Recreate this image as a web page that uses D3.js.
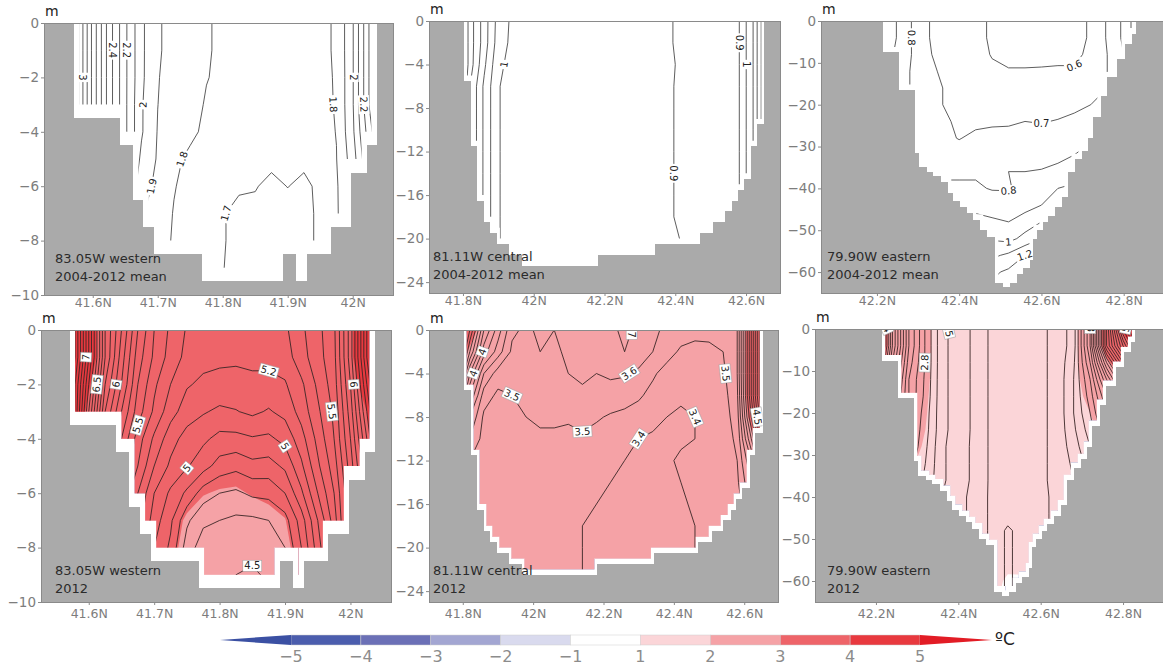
<!DOCTYPE html>
<html>
<head>
<meta charset="utf-8">
<script src="https://cdn.jsdelivr.net/npm/d3@7"></script>
<style>
  body { margin: 0; background: #fff; }
  text { font-family: "DejaVu Sans", sans-serif; }
</style>
</head>
<body>
<svg id="figure" width="1163" height="665"></svg>
<script>

// ---------- data ----------

var sectionNames = ["83.05W western", "81.11W central", "79.90W eastern"];
var periods = ["2004-2012 mean", "2012"];

// colour bar boundaries (deg C) and band colours, lowest band first
var bounds = [-5, -4, -3, -2, -1, 1, 2, 3, 4, 5];
var bandColors = ["#3b50a3", "#4b5dad", "#6b70b6", "#a3a6d2", "#d9daee", "#ffffff",
                  "#fbd5d8", "#f5a2a6", "#ee6469", "#e8393f", "#e21c25"];

// tick labels
var ticksLatW = [41.6, 41.7, 41.8, 41.9, 42.0];
var ticksLatC = [41.8, 42.0, 42.2, 42.4, 42.6];
var ticksLatE = [42.2, 42.4, 42.6, 42.8];
var ticksDepthW = [0, -2, -4, -6, -8, -10];
var ticksDepthC = [0, -4, -8, -12, -16, -20, -24];
var ticksDepthE = [0, -10, -20, -30, -40, -50, -60];

// lake bottom: column edges (deg N) and floor depth of each column (m)
var edgesW = [41.571, 41.642, 41.662, 41.678, 41.695, 41.768, 41.892, 41.912, 41.929, 41.966, 41.998, 42.022, 42.037];
var floorsW = [-3.5, -4.5, -6.5, -7.5, -8.5, -9.5, -8.5, -9.5, -8.5, -7.5, -5.5, -4.5];
var edgesC = [41.803, 41.823, 41.840, 41.859, 41.876, 41.896, 41.930, 41.967, 42.182, 42.343, 42.470,
              42.507, 42.541, 42.561, 42.578, 42.595, 42.615, 42.632, 42.652];
var floorsC = [-5.5, -11.5, -16.5, -18.5, -19.5, -20.5, -21.5, -22.5, -21.5, -20.5, -19.5, -18.5,
               -17.5, -16.5, -15.5, -14.5, -11.5, -9.5];
var edgesE = [42.2146, 42.2535, 42.2923, 42.302, 42.3215, 42.336, 42.3555, 42.3725, 42.3847, 42.4017,
              42.4187, 42.4333, 42.4503, 42.4673, 42.4868, 42.5062, 42.5232, 42.5402, 42.5548, 42.5718,
              42.5791, 42.5888, 42.6034, 42.6155, 42.6326, 42.6496, 42.6641, 42.6812, 42.6982, 42.7128,
              42.7249, 42.7443, 42.7589, 42.7832, 42.8027, 42.8197, 42.8294];
var floorsE = [-7.5, -16.5, -31.5, -35, -36, -37, -38.5, -41, -43, -44.5, -46, -47.5, -50, -51.5,
               -62.5, -63.5, -62.5, -60.5, -59, -57, -52, -50, -48, -46.5, -44.5, -42, -36, -33,
               -31, -28, -23, -18, -13.5, -9, -5.5, -3];

// temperature grids: one row per depth, one column per latitude
var latW = d3.range(21).map(function(i) { return 41.55 + i * 0.025; });
var depthW = d3.range(11).map(function(i) { return -i; });
var latC = d3.range(23).map(function(i) { return 41.78 + i * 0.04; });
var depthC = d3.range(13).map(function(i) { return -2 * i; });
var latE = d3.range(18).map(function(i) { return 42.2 + i * 0.04; });
var depthE = d3.range(17).map(function(i) { return -4 * i; });

var meanW = [
  [3.4, 3.15, 2.77, 2.45, 2.22, 2.02, 1.91, 1.87, 1.84, 1.805, 1.79, 1.78, 1.78, 1.78, 1.78, 1.78, 1.78, 1.81, 1.99, 2.3, 2.5],
  [3.4, 3.15, 2.77, 2.45, 2.22, 2.02, 1.91, 1.87, 1.84, 1.805, 1.79, 1.78, 1.78, 1.78, 1.78, 1.78, 1.78, 1.81, 1.99, 2.3, 2.5],
  [3.4, 3.15, 2.77, 2.45, 2.22, 2.02, 1.905, 1.86, 1.83, 1.802, 1.79, 1.78, 1.78, 1.78, 1.78, 1.78, 1.785, 1.805, 1.99, 2.3, 2.5],
  [3.4, 3.15, 2.77, 2.45, 2.22, 2.01, 1.901, 1.85, 1.82, 1.795, 1.78, 1.77, 1.77, 1.77, 1.77, 1.77, 1.78, 1.805, 1.99, 2.3, 2.5],
  [3.4, 3.15, 2.77, 2.45, 2.22, 2.01, 1.895, 1.84, 1.81, 1.79, 1.77, 1.76, 1.76, 1.76, 1.76, 1.76, 1.775, 1.802, 1.98, 2.25, 2.5],
  [3.2, 3.0, 2.7, 2.4, 2.15, 1.98, 1.89, 1.81, 1.79, 1.77, 1.75, 1.74, 1.74, 1.72, 1.71, 1.72, 1.76, 1.798, 1.95, 2.2, 2.4],
  [3.0, 2.8, 2.6, 2.3, 2.1, 1.95, 1.87, 1.805, 1.77, 1.74, 1.72, 1.71, 1.705, 1.68, 1.702, 1.68, 1.72, 1.79, 1.9, 2.1, 2.3],
  [3.0, 2.8, 2.5, 2.2, 2.01, 1.91, 1.85, 1.795, 1.76, 1.72, 1.705, 1.68, 1.68, 1.67, 1.67, 1.67, 1.72, 1.79, 1.88, 2.01, 2.2],
  [3.0, 2.8, 2.5, 2.2, 2.01, 1.91, 1.84, 1.79, 1.75, 1.72, 1.705, 1.68, 1.68, 1.67, 1.67, 1.67, 1.72, 1.79, 1.88, 2.01, 2.2],
  [3.0, 2.8, 2.5, 2.2, 2.01, 1.91, 1.84, 1.79, 1.75, 1.72, 1.701, 1.69, 1.68, 1.68, 1.68, 1.68, 1.72, 1.79, 1.88, 2.01, 2.2],
  [3.0, 2.8, 2.5, 2.2, 2.01, 1.91, 1.84, 1.79, 1.75, 1.72, 1.701, 1.69, 1.68, 1.68, 1.68, 1.68, 1.72, 1.79, 1.88, 2.01, 2.2]
];
var y2012W = [
  [7.6, 7.5, 6.9, 6.3, 6.0, 5.7, 5.5, 5.38, 5.29, 5.26, 5.25, 5.25, 5.25, 5.25, 5.28, 5.38, 5.47, 5.58, 5.95, 6.5, 7.0],
  [7.6, 7.5, 6.9, 6.3, 5.95, 5.65, 5.48, 5.36, 5.27, 5.23, 5.22, 5.22, 5.22, 5.23, 5.25, 5.36, 5.46, 5.57, 5.95, 6.5, 7.0],
  [7.6, 7.4, 6.8, 6.2, 5.9, 5.6, 5.42, 5.3, 5.21, 5.18, 5.17, 5.16, 5.18, 5.17, 5.19, 5.28, 5.42, 5.55, 5.9, 6.4, 6.9],
  [7.6, 7.4, 6.7, 6.1, 5.8, 5.55, 5.38, 5.24, 5.15, 5.11, 5.08, 5.095, 5.12, 5.09, 5.13, 5.24, 5.38, 5.52, 5.85, 6.3, 6.8],
  [7.4, 7.2, 6.6, 6.0, 5.7, 5.45, 5.28, 5.14, 5.06, 5.02, 4.97, 4.97, 4.99, 4.98, 5.03, 5.16, 5.33, 5.5, 5.8, 6.2, 6.7],
  [7.2, 7.0, 6.5, 5.95, 5.6, 5.4, 5.2, 5.08, 5.01, 4.94, 4.86, 4.83, 4.87, 4.86, 4.92, 5.08, 5.28, 5.45, 5.75, 6.1, 6.6],
  [7.0, 6.9, 6.4, 5.9, 5.5, 5.3, 5.1, 4.98, 4.88, 4.75, 4.70, 4.68, 4.72, 4.73, 4.80, 4.98, 5.2, 5.4, 5.7, 6.0, 6.5],
  [7.0, 6.9, 6.4, 5.9, 5.5, 5.25, 5.05, 4.92, 4.72, 4.62, 4.60, 4.58, 4.58, 4.60, 4.66, 4.85, 5.1, 5.35, 5.7, 6.0, 6.5],
  [7.0, 6.9, 6.4, 5.9, 5.5, 5.2, 5.0, 4.88, 4.65, 4.55, 4.54, 4.52, 4.52, 4.53, 4.6, 4.8, 5.05, 5.3, 5.7, 6.0, 6.5],
  [7.0, 6.9, 6.4, 5.9, 5.5, 5.2, 5.0, 4.85, 4.6, 4.52, 4.51, 4.50, 4.49, 4.51, 4.6, 4.8, 5.0, 5.3, 5.7, 6.0, 6.5],
  [7.0, 6.9, 6.4, 5.9, 5.5, 5.2, 5.0, 4.85, 4.6, 4.52, 4.51, 4.50, 4.49, 4.51, 4.6, 4.8, 5.0, 5.3, 5.7, 6.0, 6.5]
];

var meanC = [
  [1.8, 1.45, 1.25, 1.06, 0.98, 0.96, 0.95, 0.95, 0.95, 0.95, 0.95, 0.95, 0.95, 0.95, 0.93, 0.905, 0.89, 0.885, 0.885, 0.885, 0.895, 1.1, 1.45],
  [1.8, 1.45, 1.25, 1.05, 0.975, 0.96, 0.95, 0.95, 0.95, 0.95, 0.95, 0.95, 0.95, 0.95, 0.93, 0.905, 0.89, 0.885, 0.885, 0.885, 0.895, 1.1, 1.45],
  [1.8, 1.45, 1.22, 1.02, 0.97, 0.955, 0.95, 0.95, 0.95, 0.95, 0.95, 0.95, 0.95, 0.95, 0.93, 0.91, 0.89, 0.885, 0.885, 0.885, 0.895, 1.1, 1.45],
  [1.8, 1.4, 1.18, 1.005, 0.965, 0.955, 0.95, 0.95, 0.95, 0.95, 0.95, 0.95, 0.95, 0.95, 0.93, 0.91, 0.885, 0.88, 0.88, 0.88, 0.895, 1.1, 1.45],
  [1.8, 1.4, 1.18, 1.005, 0.965, 0.955, 0.95, 0.95, 0.95, 0.95, 0.95, 0.95, 0.95, 0.95, 0.93, 0.91, 0.885, 0.88, 0.88, 0.88, 0.895, 1.1, 1.45],
  [1.8, 1.4, 1.18, 1.005, 0.965, 0.955, 0.95, 0.95, 0.95, 0.95, 0.95, 0.95, 0.95, 0.95, 0.93, 0.91, 0.885, 0.88, 0.88, 0.88, 0.895, 1.1, 1.45],
  [1.8, 1.4, 1.18, 1.005, 0.965, 0.955, 0.95, 0.95, 0.95, 0.95, 0.95, 0.95, 0.95, 0.95, 0.93, 0.91, 0.885, 0.88, 0.88, 0.88, 0.895, 1.1, 1.45],
  [1.8, 1.4, 1.18, 1.005, 0.965, 0.955, 0.95, 0.95, 0.95, 0.95, 0.95, 0.95, 0.95, 0.95, 0.93, 0.91, 0.885, 0.88, 0.88, 0.88, 0.895, 1.1, 1.45],
  [1.8, 1.4, 1.18, 1.005, 0.965, 0.955, 0.95, 0.95, 0.95, 0.95, 0.95, 0.95, 0.95, 0.95, 0.93, 0.91, 0.885, 0.88, 0.88, 0.88, 0.895, 1.1, 1.45],
  [1.8, 1.4, 1.18, 1.005, 0.965, 0.955, 0.95, 0.95, 0.95, 0.95, 0.95, 0.95, 0.95, 0.95, 0.93, 0.91, 0.885, 0.88, 0.88, 0.88, 0.895, 1.1, 1.45],
  [1.8, 1.4, 1.18, 1.005, 0.965, 0.955, 0.95, 0.95, 0.95, 0.95, 0.95, 0.95, 0.95, 0.95, 0.93, 0.92, 0.895, 0.88, 0.88, 0.88, 0.895, 1.1, 1.45],
  [1.8, 1.4, 1.18, 1.005, 0.965, 0.955, 0.95, 0.95, 0.95, 0.95, 0.95, 0.95, 0.95, 0.95, 0.93, 0.92, 0.895, 0.88, 0.88, 0.88, 0.895, 1.1, 1.45],
  [1.8, 1.4, 1.18, 1.005, 0.965, 0.955, 0.95, 0.95, 0.95, 0.95, 0.95, 0.95, 0.95, 0.95, 0.93, 0.92, 0.895, 0.88, 0.88, 0.88, 0.895, 1.1, 1.45]
];
var y2012C = [
  [5.0, 4.6, 4.1, 3.85, 3.62, 3.58, 3.62, 3.6, 3.62, 3.65, 3.66, 3.68, 3.72, 3.68, 3.62, 3.58, 3.56, 3.55, 3.55, 3.55, 3.6, 4.3, 5.0],
  [5.0, 4.4, 3.95, 3.75, 3.58, 3.56, 3.6, 3.59, 3.61, 3.63, 3.64, 3.66, 3.7, 3.66, 3.6, 3.55, 3.48, 3.45, 3.46, 3.5, 3.6, 4.3, 5.0],
  [4.8, 4.1, 3.7, 3.55, 3.5, 3.55, 3.58, 3.57, 3.6, 3.62, 3.6, 3.62, 3.61, 3.58, 3.52, 3.45, 3.42, 3.42, 3.43, 3.48, 3.6, 4.3, 5.0],
  [4.5, 3.9, 3.55, 3.48, 3.5, 3.52, 3.55, 3.56, 3.57, 3.58, 3.56, 3.55, 3.55, 3.52, 3.46, 3.42, 3.41, 3.41, 3.42, 3.46, 3.58, 4.3, 5.0],
  [4.3, 3.7, 3.48, 3.45, 3.48, 3.5, 3.52, 3.53, 3.52, 3.52, 3.51, 3.49, 3.47, 3.44, 3.42, 3.40, 3.39, 3.40, 3.41, 3.45, 3.55, 4.2, 4.9],
  [4.2, 3.6, 3.46, 3.44, 3.47, 3.49, 3.48, 3.47, 3.46, 3.49, 3.47, 3.45, 3.42, 3.40, 3.39, 3.38, 3.39, 3.40, 3.41, 3.45, 3.52, 4.0, 4.6],
  [4.0, 3.5, 3.44, 3.43, 3.46, 3.45, 3.44, 3.43, 3.42, 3.45, 3.43, 3.41, 3.40, 3.39, 3.38, 3.39, 3.41, 3.42, 3.43, 3.45, 3.5, 3.8, 4.3],
  [3.8, 3.45, 3.43, 3.42, 3.45, 3.43, 3.42, 3.41, 3.41, 3.42, 3.41, 3.40, 3.38, 3.395, 3.38, 3.39, 3.40, 3.43, 3.44, 3.44, 3.48, 3.7, 4.0],
  [3.7, 3.44, 3.42, 3.41, 3.44, 3.42, 3.41, 3.405, 3.41, 3.41, 3.40, 3.39, 3.38, 3.39, 3.38, 3.385, 3.39, 3.41, 3.42, 3.43, 3.46, 3.6, 3.9],
  [3.6, 3.43, 3.41, 3.40, 3.43, 3.41, 3.40, 3.40, 3.41, 3.40, 3.39, 3.38, 3.38, 3.38, 3.38, 3.38, 3.39, 3.40, 3.41, 3.42, 3.45, 3.55, 3.8],
  [3.6, 3.43, 3.41, 3.40, 3.43, 3.41, 3.40, 3.40, 3.41, 3.40, 3.39, 3.38, 3.38, 3.38, 3.38, 3.38, 3.39, 3.40, 3.41, 3.42, 3.45, 3.55, 3.8],
  [3.6, 3.43, 3.41, 3.40, 3.43, 3.41, 3.40, 3.40, 3.41, 3.40, 3.39, 3.38, 3.38, 3.38, 3.38, 3.38, 3.39, 3.40, 3.41, 3.42, 3.45, 3.55, 3.8],
  [3.6, 3.43, 3.41, 3.40, 3.43, 3.41, 3.40, 3.40, 3.41, 3.40, 3.39, 3.38, 3.38, 3.38, 3.38, 3.38, 3.39, 3.40, 3.41, 3.42, 3.45, 3.55, 3.8]
];

var meanE = [
  [1.05, 0.92, 0.81, 0.705, 0.68, 0.65, 0.62, 0.59, 0.57, 0.57, 0.575, 0.58, 0.585, 0.605, 0.71, 0.82, 1.0, 1.1],
  [1.05, 0.92, 0.81, 0.705, 0.68, 0.65, 0.62, 0.59, 0.57, 0.57, 0.575, 0.58, 0.585, 0.605, 0.71, 0.82, 1.0, 1.1],
  [1.0, 0.9, 0.81, 0.71, 0.68, 0.65, 0.63, 0.595, 0.58, 0.58, 0.585, 0.59, 0.59, 0.61, 0.7, 0.8, 0.97, 1.05],
  [0.95, 0.88, 0.8, 0.72, 0.69, 0.665, 0.64, 0.615, 0.605, 0.605, 0.605, 0.605, 0.605, 0.625, 0.7, 0.8, 0.95, 1.05],
  [0.92, 0.86, 0.8, 0.73, 0.7, 0.68, 0.66, 0.64, 0.63, 0.63, 0.63, 0.63, 0.635, 0.65, 0.7, 0.8, 0.95, 1.05],
  [0.9, 0.85, 0.8, 0.73, 0.7, 0.685, 0.67, 0.66, 0.655, 0.66, 0.66, 0.665, 0.69, 0.7, 0.72, 0.8, 0.95, 1.05],
  [0.9, 0.85, 0.8, 0.74, 0.705, 0.695, 0.69, 0.69, 0.69, 0.70, 0.695, 0.705, 0.71, 0.73, 0.76, 0.82, 0.95, 1.05],
  [0.9, 0.85, 0.8, 0.75, 0.71, 0.698, 0.71, 0.72, 0.725, 0.73, 0.735, 0.745, 0.76, 0.79, 0.82, 0.85, 0.95, 1.05],
  [0.9, 0.86, 0.81, 0.77, 0.73, 0.72, 0.73, 0.74, 0.75, 0.76, 0.77, 0.78, 0.8, 0.83, 0.86, 0.9, 0.95, 1.05],
  [0.95, 0.9, 0.83, 0.8, 0.78, 0.785, 0.79, 0.795, 0.8, 0.8, 0.805, 0.82, 0.85, 0.88, 0.9, 0.95, 1.0, 1.1],
  [1.0, 0.95, 0.88, 0.84, 0.82, 0.815, 0.81, 0.795, 0.795, 0.82, 0.85, 0.9, 0.92, 0.95, 0.97, 1.0, 1.05, 1.1],
  [1.05, 1.0, 0.95, 0.9, 0.88, 0.87, 0.86, 0.84, 0.83, 0.86, 0.9, 0.95, 1.0, 1.0, 1.0, 1.05, 1.1, 1.1],
  [1.1, 1.05, 1.0, 0.98, 0.96, 0.95, 0.94, 0.92, 0.9, 0.95, 1.0, 1.05, 1.1, 1.1, 1.1, 1.1, 1.1, 1.1],
  [1.15, 1.1, 1.08, 1.05, 1.03, 1.02, 1.0, 0.99, 0.97, 1.03, 1.1, 1.15, 1.2, 1.2, 1.2, 1.2, 1.2, 1.2],
  [1.2, 1.15, 1.12, 1.1, 1.08, 1.07, 1.06, 1.08, 1.12, 1.2, 1.25, 1.3, 1.3, 1.3, 1.3, 1.3, 1.3, 1.3],
  [1.25, 1.2, 1.18, 1.15, 1.13, 1.12, 1.15, 1.18, 1.22, 1.28, 1.3, 1.35, 1.35, 1.35, 1.35, 1.35, 1.35, 1.35],
  [1.3, 1.25, 1.22, 1.2, 1.18, 1.18, 1.2, 1.22, 1.25, 1.3, 1.35, 1.4, 1.4, 1.4, 1.4, 1.4, 1.4, 1.4]
];
var y2012E = [
  [4.6, 3.7, 3.1, 2.79, 2.53, 2.45, 2.38, 2.28, 2.25, 2.25, 2.28, 2.33, 2.45, 3.0, 4.0, 4.9, 5.5, 6.0],
  [4.6, 3.7, 3.1, 2.79, 2.53, 2.45, 2.38, 2.28, 2.25, 2.25, 2.28, 2.33, 2.45, 3.0, 4.0, 4.6, 5.2, 5.6],
  [4.4, 3.6, 3.05, 2.79, 2.53, 2.45, 2.38, 2.28, 2.25, 2.25, 2.28, 2.33, 2.48, 2.9, 3.6, 4.2, 4.8, 5.2],
  [4.2, 3.5, 3.0, 2.78, 2.53, 2.45, 2.38, 2.28, 2.25, 2.25, 2.28, 2.33, 2.5, 2.8, 3.3, 3.8, 4.2, 4.5],
  [4.0, 3.4, 3.0, 2.77, 2.53, 2.45, 2.38, 2.28, 2.25, 2.25, 2.28, 2.33, 2.5, 2.75, 3.1, 3.5, 3.8, 4.0],
  [3.8, 3.3, 2.95, 2.75, 2.53, 2.45, 2.38, 2.28, 2.25, 2.25, 2.28, 2.33, 2.5, 2.7, 3.0, 3.3, 3.5, 3.6],
  [3.6, 3.2, 2.92, 2.74, 2.53, 2.45, 2.38, 2.28, 2.25, 2.25, 2.28, 2.33, 2.48, 2.65, 2.9, 3.1, 3.3, 3.4],
  [3.5, 3.1, 2.9, 2.72, 2.52, 2.44, 2.38, 2.28, 2.25, 2.25, 2.28, 2.33, 2.45, 2.6, 2.8, 3.0, 3.1, 3.2],
  [3.3, 3.0, 2.85, 2.7, 2.52, 2.44, 2.38, 2.28, 2.25, 2.25, 2.28, 2.33, 2.42, 2.55, 2.7, 2.9, 3.0, 3.1],
  [3.2, 2.95, 2.8, 2.68, 2.52, 2.44, 2.38, 2.28, 2.25, 2.25, 2.28, 2.33, 2.4, 2.5, 2.6, 2.7, 2.8, 2.9],
  [3.0, 2.9, 2.75, 2.65, 2.5, 2.43, 2.37, 2.28, 2.25, 2.25, 2.28, 2.32, 2.38, 2.45, 2.5, 2.6, 2.7, 2.8],
  [3.0, 2.9, 2.75, 2.65, 2.5, 2.43, 2.37, 2.28, 2.25, 2.25, 2.28, 2.32, 2.38, 2.45, 2.5, 2.6, 2.7, 2.8],
  [3.0, 2.9, 2.75, 2.65, 2.5, 2.43, 2.37, 2.28, 2.18, 2.25, 2.28, 2.32, 2.38, 2.45, 2.5, 2.6, 2.7, 2.8],
  [3.0, 2.9, 2.75, 2.65, 2.5, 2.43, 2.37, 2.28, 2.18, 2.25, 2.28, 2.32, 2.38, 2.45, 2.5, 2.6, 2.7, 2.8],
  [3.0, 2.9, 2.75, 2.65, 2.5, 2.43, 2.37, 2.28, 2.18, 2.25, 2.28, 2.32, 2.38, 2.45, 2.5, 2.6, 2.7, 2.8],
  [3.0, 2.9, 2.75, 2.65, 2.5, 2.43, 2.37, 2.28, 2.18, 2.25, 2.28, 2.32, 2.38, 2.45, 2.5, 2.6, 2.7, 2.8],
  [3.0, 2.9, 2.75, 2.65, 2.5, 2.43, 2.37, 2.28, 2.18, 2.25, 2.28, 2.32, 2.38, 2.45, 2.5, 2.6, 2.7, 2.8]
];

// contour labels: [level, lat, depth]
var labMeanW = [[3, 41.58, -2.0], [2.4, 41.632, -1.0], [2.2, 41.655, -1.0], [2, 41.68, -2.9], [1.9, 41.688, -5.7],
                [1.8, 41.749, -4.85], [1.7, 41.83, -7.0], [1.8, 41.975, -3.45], [2, 42.014, -2.0], [2.2, 42.026, -3.0]];
var labMeanC = [[1, 41.896, -4.7], [0.9, 42.397, -14.9], [0.9, 42.581, -1.1], [1, 42.606, -4.0]];
var labMeanE = [[0.8, 42.287, -2.9], [0.6, 42.676, -12.9], [0.7, 42.603, -24.9], [0.8, 42.516, -39.7],
                [1, 42.516, -51.1], [1.2, 42.56, -55.5]];
var lab2012W = [[7, 41.591, -1.0], [6.5, 41.609, -2.1], [6, 41.65, -1.8], [5.5, 41.67, -3.7], [5.2, 41.883, -1.7],
                [5, 41.903, -3.9], [5, 41.759, -5.5], [4.5, 41.866, -8.0], [5.5, 41.971, -3.0], [6, 42.007, -2.0]];
var lab2012C = [[4, 41.899, -2.2], [3.5, 41.97, -3.7], [4, 41.828, -6.0], [3.7, 42.281, -1.1], [3.6, 42.281, -4.7],
                [3.5, 42.168, -10.3], [3.4, 42.315, -10.8], [3.5, 42.533, -4.1], [3.4, 42.527, -6.7], [4.5, 42.632, -7.1]];
var lab2012E = [[4, 42.227, -1.4], [2.8, 42.319, -7.9], [2.5, 42.375, -1.4], [3, 42.732, -1.0], [5, 42.805, -1.0]];

// ---------- layout ----------

var secW = { lat: latW, depth: depthW, edges: edgesW, floors: floorsW, bottom: -10, xt: ticksLatW, yt: ticksDepthW, hz: 0.5 };
var secC = { lat: latC, depth: depthC, edges: edgesC, floors: floorsC, bottom: -25, xt: ticksLatC, yt: ticksDepthC, hz: 0.5 };
var secE = { lat: latE, depth: depthE, edges: edgesE, floors: floorsE, bottom: -65, xt: ticksLatE, yt: ticksDepthE, hz: 1.3 };
var halfCell = 1 / 120; // half of a one-minute grid cell, in degrees

var panels = [
  { sec: secW, T: meanW, base: null, lev: [1.7, 3.4], lab: labMeanW, box: [44, 393, 23, 295], lat: [41.525, 42.062], name: 0, period: 0, tx: 55 },
  { sec: secC, T: meanC, base: null, lev: [0.9, 1.8], lab: labMeanC, box: [429, 780, 21, 293], lat: [41.704, 42.696], name: 1, period: 0, tx: 433 },
  { sec: secE, T: meanE, base: null, lev: [0.6, 1.4], lab: labMeanE, box: [821, 1164, 21, 293], lat: [42.064, 42.898], name: 2, period: 0, tx: 827 },
  { sec: secW, T: y2012W, base: meanW, lev: [4.5, 7.6], lab: lab2012W, box: [41, 391, 330, 602], lat: [41.527, 42.062], name: 0, period: 1, tx: 55 },
  { sec: secC, T: y2012C, base: meanC, lev: [3.4, 5.0], lab: lab2012C, box: [429, 778, 330, 602], lat: [41.704, 42.696], name: 1, period: 1, tx: 433 },
  { sec: secE, T: y2012E, base: meanE, lev: [2.2, 6.0], lab: lab2012E, box: [815, 1163, 329, 602], lat: [42.052, 42.897], name: 2, period: 1, tx: 827 }
];

var svg = d3.select("#figure");
var defs = svg.append("defs");
var bandColor = d3.scaleThreshold().domain(bounds).range(bandColors);

// shrink the water area by half a grid cell: contours only reach cell centres
function erode(edges, floors, hx, hz) {
  var lo = edges[0] + hx, hi = edges[edges.length - 1] - hx;
  var xs = [];
  edges.forEach(function(e) { xs.push(e - hx, e + hx); });
  xs = xs.filter(function(v) { return v >= lo - 1e-9 && v <= hi + 1e-9; }).sort(d3.ascending);
  var steps = [];
  for (var i = 0; i < xs.length - 1; i++) {
    var a = xs[i], b = xs[i + 1];
    if (b - a < 1e-7) continue;
    var m = (a + b) / 2, g = -Infinity;
    floors.forEach(function(f, k) {
      if (edges[k + 1] > m - hx && edges[k] < m + hx) g = Math.max(g, f);
    });
    steps.push([a, b, Math.min(g + hz, 0)]);
  }
  return steps;
}

// staircase outline, open at the surface
function outline(steps) {
  var pts = [[steps[0][0], 0]];
  steps.forEach(function(s) { pts.push([s[0], s[2]], [s[1], s[2]]); });
  pts.push([steps[steps.length - 1][1], 0]);
  return pts;
}

function flat(rows) { return [].concat.apply([], rows); }

panels.forEach(function(p, i) {
  var s = p.sec, b = p.box, top = p.period === 0;
  var x = d3.scaleLinear().domain(p.lat).range([b[0], b[1]]);
  var y = d3.scaleLinear().domain([s.bottom, 0]).range([b[3], b[2]]);
  var nx = s.lat.length, ny = s.depth.length;
  var dLat = s.lat[1] - s.lat[0], dz = s.depth[0] - s.depth[1];

  // d3.contours works in grid units; sample k sits at k + 0.5
  function gridPx(c, r) {
    return [x(s.lat[0] + (c - 0.5) * dLat), y(s.depth[0] - (r - 0.5) * dz)];
  }
  var gridPath = d3.geoPath(d3.geoTransform({
    point: function(c, r) { var q = gridPx(c, r); this.stream.point(q[0], q[1]); }
  }));
  var toPx = function(pts) { return pts.map(function(d) { return [x(d[0]), y(d[1])]; }); };
  var line = d3.line();

  var waterPx = toPx(outline(s.floors.map(function(f, k) { return [s.edges[k], s.edges[k + 1], f]; })));
  var dataPx = toPx(outline(erode(s.edges, s.floors, halfCell, s.hz)));

  var g = svg.append("g");
  g.append("rect")
    .attr("x", b[0]).attr("y", b[2])
    .attr("width", b[1] - b[0]).attr("height", b[3] - b[2])
    .attr("fill", "#aaaaaa");
  g.append("path")
    .attr("d", line(waterPx) + "Z")
    .attr("fill", "#fff")
    .attr("shape-rendering", "crispEdges");

  defs.append("clipPath").attr("id", "data" + i).append("path").attr("d", line(dataPx) + "Z");
  defs.append("clipPath").attr("id", "water" + i).append("path").attr("d", line(waterPx) + "Z");

  var inner = g.append("g").attr("clip-path", "url(#data" + i + ")");
  var field = flat(p.T);
  var gen = d3.contours().size([nx, ny]);

  // bottom row: colour shows the 2012 anomaly against the mean
  if (p.base) {
    var baseFlat = flat(p.base);
    var anom = field.map(function(v, k) { return v - baseFlat[k]; });
    inner.selectAll("path.band")
      .data(gen.thresholds(bounds)(anom))
      .join("path")
      .attr("class", "band")
      .attr("d", gridPath)
      .attr("fill", function(d) { return bandColor(d.value); });
  }

  var levels = d3.range(Math.round(p.lev[0] * 10), Math.round(p.lev[1] * 10) + 1).map(function(v) { return v / 10; });
  inner.selectAll("path.iso")
    .data(gen.thresholds(levels)(field))
    .join("path")
    .attr("class", "iso")
    .attr("d", gridPath)
    .attr("fill", "none")
    .attr("stroke", top ? "#404040" : "#3a2626")
    .attr("stroke-width", top ? 0.85 : 0.9);

  // labels sit on the nearest visible point of their contour
  var labLayer = g.append("g").attr("clip-path", "url(#water" + i + ")");
  p.lab.forEach(function(l) {
    var geom = gen.contour(field, l[0]);
    var tx = x(l[1]), ty = y(l[2]);
    var best = null, bestD = 30;
    geom.coordinates.forEach(function(poly) {
      poly.forEach(function(ring) {
        var pts = ring.map(function(c) { return gridPx(c[0], c[1]); });
        var n = pts.length - 1;
        for (var k = 0; k < n; k++) {
          var q = pts[k];
          if (!d3.polygonContains(dataPx, q)) continue;
          var d = Math.hypot(q[0] - tx, q[1] - ty);
          if (d < bestD) { bestD = d; best = [q, pts[(k - 1 + n) % n], pts[(k + 1) % n]]; }
        }
      });
    });
    if (!best) return;
    var ang = Math.atan2(best[2][1] - best[1][1], best[2][0] - best[1][0]) * 180 / Math.PI;
    if (ang > 90) ang -= 180;
    if (ang <= -90) ang += 180;
    var lg = labLayer.append("g")
      .attr("transform", "translate(" + best[0][0] + "," + best[0][1] + ") rotate(" + ang + ")");
    var t = lg.append("text")
      .attr("text-anchor", "middle")
      .attr("dy", "0.35em")
      .attr("font-size", 10)
      .attr("fill", "#222")
      .text(l[0]);
    var w = t.node().getComputedTextLength() + 3;
    lg.insert("rect", "text")
      .attr("x", -w / 2).attr("y", -5.5)
      .attr("width", w).attr("height", 11)
      .attr("fill", "#fff")
      .attr("stroke", top ? "none" : "#9a9a9a")
      .attr("stroke-width", 0.5);
  });

  // frame
  g.append("rect")
    .attr("x", b[0]).attr("y", b[2])
    .attr("width", b[1] - b[0]).attr("height", b[3] - b[2])
    .attr("fill", "none")
    .attr("stroke", "#8a8a8a")
    .attr("shape-rendering", "crispEdges");

  var xa = g.append("g")
    .attr("transform", "translate(0," + b[3] + ")")
    .call(d3.axisBottom(x).tickValues(s.xt).tickSize(3).tickPadding(top ? 0 : 4)
      .tickFormat(function(v) { return (+v.toFixed(1)) + "N"; }));
  var ya = g.append("g")
    .attr("transform", "translate(" + b[0] + ",0)")
    .call(d3.axisLeft(y).tickValues(s.yt).tickSize(3).tickPadding(2).tickFormat(d3.format("d")));
  [xa, ya].forEach(function(ax) {
    ax.select(".domain").remove();
    ax.attr("font-family", "DejaVu Sans, sans-serif");
    ax.selectAll("line").attr("stroke", "#8a8a8a");
    ax.selectAll("text").attr("fill", "#7d7d7d");
  });
  xa.attr("font-size", 12.5);
  ya.attr("font-size", 13.5);

  g.append("text")
    .attr("x", b[0] + 1).attr("y", b[2] - 7)
    .attr("font-family", "Open Sans, sans-serif")
    .attr("font-size", 14)
    .attr("fill", "#222")
    .text("m");

  var title = g.append("g")
    .attr("font-family", "Open Sans, sans-serif")
    .attr("font-size", 13)
    .attr("fill", "#2b2b2b");
  title.append("text").attr("x", p.tx).attr("y", b[3] - (top ? 32 : 27)).text(sectionNames[p.name]);
  title.append("text").attr("x", p.tx).attr("y", b[3] - (top ? 14 : 9)).text(periods[p.period]);
});

// ---------- colour bar ----------
var cbx = d3.scalePoint().domain(bounds).range([291, 920]);
var cbTop = 635, cbBot = 645, cbMid = (cbTop + cbBot) / 2;
var cb = svg.append("g");

cb.selectAll("rect.seg")
  .data(d3.pairs(bounds))
  .join("rect")
  .attr("class", "seg")
  .attr("x", function(d) { return cbx(d[0]); })
  .attr("y", cbTop)
  .attr("width", function(d) { return cbx(d[1]) - cbx(d[0]); })
  .attr("height", cbBot - cbTop)
  .attr("fill", function(d) { return bandColor(d[0]); })
  .attr("stroke", "#cfcfcf")
  .attr("stroke-width", 0.5);

cb.append("path")
  .attr("d", d3.line()([[cbx(-5), cbTop], [cbx(-5) - 71, cbMid], [cbx(-5), cbBot]]) + "Z")
  .attr("fill", bandColors[0]);
cb.append("path")
  .attr("d", d3.line()([[cbx(5), cbTop], [cbx(5) + 72, cbMid], [cbx(5), cbBot]]) + "Z")
  .attr("fill", bandColors[bandColors.length - 1]);

cb.selectAll("text.lab")
  .data(bounds)
  .join("text")
  .attr("class", "lab")
  .attr("x", function(d) { return cbx(d); })
  .attr("y", 662)
  .attr("text-anchor", "middle")
  .attr("font-size", 16)
  .attr("fill", "#8c8c8c")
  .text(d3.format("d"));

cb.append("text")
  .attr("x", 995).attr("y", 645)
  .attr("font-family", "Open Sans, sans-serif")
  .attr("font-size", 17)
  .attr("fill", "#222")
  .text("ºC");

</script>
</body>
</html>
